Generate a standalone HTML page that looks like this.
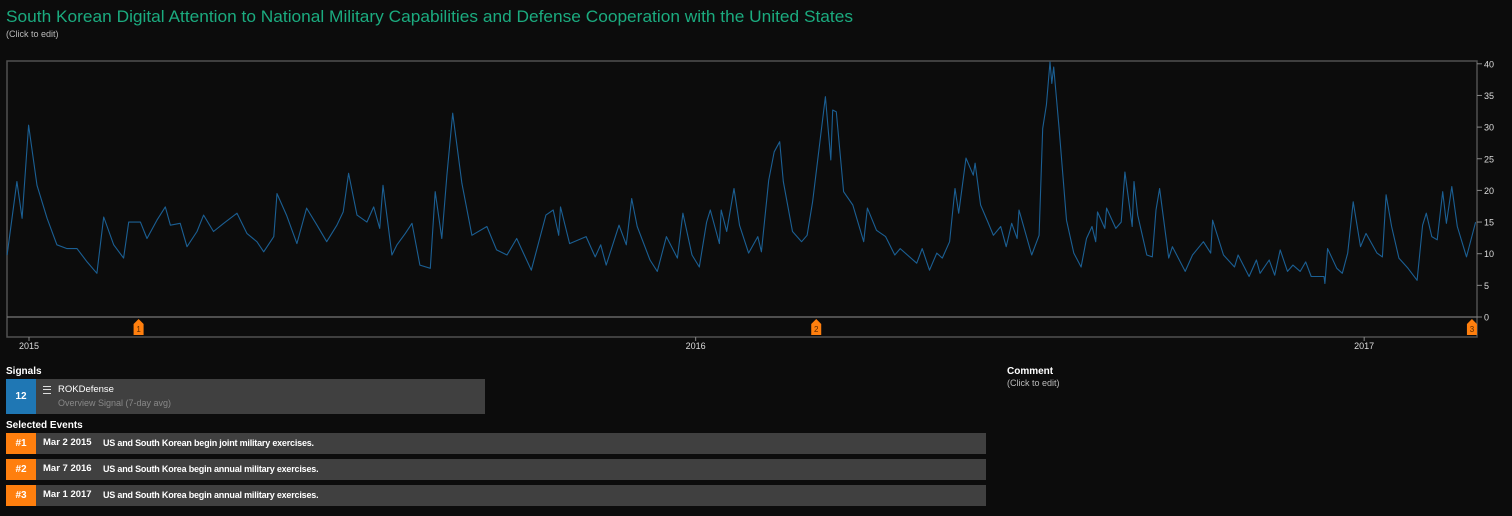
<!DOCTYPE html>
<html><head><meta charset="utf-8"><style>
body{margin:0;background:#0c0c0c;width:1512px;height:516px;overflow:hidden;font-family:"Liberation Sans",sans-serif;color:#fff;position:relative}
.abs{position:absolute}
.sub{font-size:9px;color:#bbb}
.lbl{font-size:10px;font-weight:bold;color:#fff}
.row{position:absolute;left:6px;width:980px;height:21px;background:#404040}
.row .num{position:absolute;left:0;top:0;width:30px;height:21px;background:#ff7f0e;font-size:10px;font-weight:bold;text-align:center;line-height:21px}
.row .dt{position:absolute;left:37px;top:4px;font-size:9.5px;font-weight:bold}
.row .tx{position:absolute;left:97px;top:5px;font-size:9px;font-weight:bold;letter-spacing:-0.2px}
</style></head><body>
<svg class="abs" style="left:0;top:0" width="1512" height="30"><text x="6" y="22" fill="#1bab7f" font-size="17" textLength="847" lengthAdjust="spacingAndGlyphs" font-family="Liberation Sans, sans-serif">South Korean Digital Attention to National Military Capabilities and Defense Cooperation with the United States</text></svg>
<div class="abs sub" style="left:6px;top:29px">(Click to edit)</div>
<svg id="chart" class="abs" style="left:0;top:0" width="1512" height="360"></svg>
<div class="abs lbl" style="left:6px;top:366px">Signals</div>
<div class="abs" style="left:6px;top:379px;width:479px;height:35px;background:#404040">
 <div class="abs" style="left:0;top:0;width:30px;height:35px;background:#1f77b4;font-size:10px;font-weight:bold;text-align:center;line-height:35px">12</div>
 <div class="abs" style="left:37px;top:7px;width:8px;height:6px;border-top:1.5px solid #ddd;border-bottom:1.5px solid #ddd"><div style="margin-top:1.7px;border-top:1.5px solid #ddd"></div></div>
 <div class="abs" style="left:52px;top:5px;font-size:9.5px">ROKDefense</div>
 <div class="abs" style="left:52px;top:19px;font-size:9px;color:#888">Overview Signal (7-day avg)</div>
</div>
<div class="abs lbl" style="left:6px;top:420px">Selected Events</div>
<div class="row" style="top:433px"><div class="num">#1</div><div class="dt">Mar 2 2015</div><div class="tx">US and South Korean begin joint military exercises.</div></div>
<div class="row" style="top:459px"><div class="num">#2</div><div class="dt">Mar 7 2016</div><div class="tx">US and South Korea begin annual military exercises.</div></div>
<div class="row" style="top:485px"><div class="num">#3</div><div class="dt">Mar 1 2017</div><div class="tx">US and South Korea begin annual military exercises.</div></div>
<div class="abs lbl" style="left:1007px;top:366px">Comment</div>
<div class="abs sub" style="left:1007px;top:378px">(Click to edit)</div>
<script>
const days=[-12,-6.6,-3.8,-0.2,4.4,9.9,15.3,20.8,26.3,31.8,37.2,40.9,46.4,51.8,54.6,61,64.6,70,74.6,77.4,82.8,86.5,92,95.6,101,106.6,113.9,119.3,124.8,128.5,134,135.8,141,146.7,152,157.7,163,168.6,172,175,179.6,185,188.7,192,193.8,198.7,201.5,206,209.7,214,219.7,222.4,226,228.8,232,237,242.5,250.7,256,261.7,267,275,283,287,290,291,296,305,310,313,316,323,327,330,333,340,344,349,355,358,363,367,371,373,378,379,382,386,389,394,399,401,405,408,411,413,418,423,426,429,436,439,440,442,446,451,457,459,464,469,474,477,486,489,493,497,500,504,507,509,513,517,518,521,525,528,532,535,538,541,542,549,553,555,557,559,560,561,564,568,572,576,579,582,584,585,589,590,595,598,600,604,605,607,612,615,617,619,624,626,633,637,643,647,648,654,660,662,668,672,674,679,682,685,689,692,696,699,702,709,709.5,711,716,719,722,725,729,732,738,741,743,746,750,755,760,763,765,768,771,774,776,779,782,787,792];
const values=[9.8,21.4,15.6,30.3,20.8,15.6,11.4,10.8,10.8,8.7,6.9,15.8,11.4,9.3,15,15,12.4,15.3,17.4,14.5,14.8,11.1,13.5,16.1,13.5,14.8,16.4,13.2,11.9,10.3,12.7,19.5,16.1,11.6,17.2,14.5,11.9,14.5,16.6,22.7,16.1,15,17.4,14,20.8,9.8,11.4,13.2,14.8,8.2,7.7,19.8,12.4,22.4,32.2,21.1,12.9,14.3,10.6,9.8,12.4,7.4,16.1,16.9,12.9,17.4,11.6,12.7,9.5,11.4,8.2,14.5,11.4,18.7,14.3,9,7.2,12.7,9.3,16.4,9.8,7.9,15,16.9,11.6,16.9,13.5,20.3,14.5,10.1,12.7,10.3,21.6,26.1,27.7,21.4,13.5,11.9,12.9,18.2,34.8,24.8,32.7,32.4,19.8,17.7,11.9,17.2,13.7,12.7,9.8,10.8,8.5,10.8,7.4,10.1,9.3,11.9,20.3,16.4,25.1,22.4,24.3,17.7,15,12.9,14.3,11.1,14.8,12.4,16.9,9.8,12.9,29.8,33.5,40.3,36.9,39.5,29.8,15.3,10.1,7.9,12.4,14.3,11.9,16.6,14,17.2,14,15,22.9,14.3,21.4,16.1,9.8,9.5,16.9,20.3,9.3,11.1,7.2,9.8,11.9,10.1,15.3,9.8,7.9,9.8,6.4,9,6.9,9,6.6,10.6,7.2,8.2,7.2,8.7,6.4,6.4,5.3,10.8,7.7,6.9,10.1,18.2,11.1,13.2,10.1,9.5,19.3,14.3,9.3,7.7,5.8,14.5,16.4,12.7,12.2,19.8,14.8,20.6,14.3,9.5,15];
const yTicks=[0,5,10,15,20,25,30,35,40];
const yearLabels=["2015","2016","2017"];
const eventDates=["2015-03-02","2016-03-07","2017-03-01"];
const eventLabels=["1","2","3"];

const svg=document.getElementById('chart');
const NS='http://www.w3.org/2000/svg';
const X0=29,PXD=1.8265,Y0=317,PXV=6.33,L=7,R=1477,T=61,B=337;
const xs=d=>X0+d*PXD, ys=v=>Y0-v*PXV;
const dayOf=s=>(Date.parse(s)-Date.parse("2015-01-01"))/864e5;
function mk(t,a){const e=document.createElementNS(NS,t);for(const k in a)e.setAttribute(k,a[k]);svg.appendChild(e);return e;}
let e=mk('rect',{x:L,y:T,width:R-L,height:B-T,fill:'none',stroke:'#505050','stroke-width':1.5});


e=mk('line',{x1:L,x2:R,y1:Y0,y2:Y0,stroke:'#777','stroke-width':1.2});


yTicks.forEach(v=>{
 let l=mk('line',{x1:R,x2:R+5,y1:ys(v),y2:ys(v),stroke:'#888'});
 
 
 let t=mk('text',{x:R+7,y:ys(v)+3.5,fill:'#ddd','font-size':9});
 t.textContent=v;
 
 
});
yearLabels.forEach(y=>{
 const x=xs(dayOf(y+"-01-01"));
 let l=mk('line',{x1:x,x2:x,y1:B,y2:B+4,stroke:'#888'});
 
 
 let t=mk('text',{x:x,y:B+12,fill:'#ddd','font-size':9,'text-anchor':'middle'});
 t.textContent=y;
 
 
});
let d=days.map((dd,i)=>(i?'L':'M')+xs(dd).toFixed(1)+','+ys(values[i]).toFixed(1)).join('');
e=mk('path',{d:d,fill:'none',stroke:'#1b5f93','stroke-width':1.1,'stroke-linejoin':'round'});


eventDates.forEach((s,i)=>{
 const x=xs(dayOf(s));
 let p=mk('path',{d:`M${x-5},${335}V${324}L${x},${319}L${x+5},${324}V${335}Z`,fill:'#ff7f0e'});
 
 
 let t=mk('text',{x:x,y:332,fill:'#5a2a00','font-size':8,'text-anchor':'middle'});
 t.textContent=eventLabels[i];
 
 
});
</script>
</body></html>
